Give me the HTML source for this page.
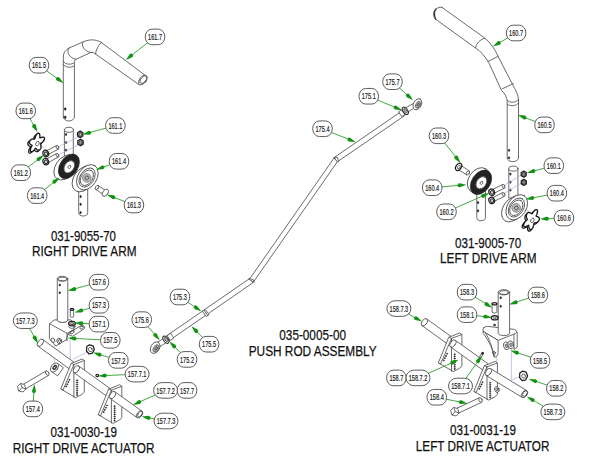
<!DOCTYPE html>
<html><head><meta charset="utf-8"><style>
html,body{margin:0;padding:0;background:#fff;width:600px;height:470px;overflow:hidden}
svg{display:block}
.ld{stroke:#2e9e2e;stroke-width:0.9;fill:none}
.ah{fill:#139313;stroke:none}
.lb{fill:#fff;stroke:#4a4a4a;stroke-width:0.9}
.lt{font-family:"Liberation Sans",sans-serif;font-size:9px;fill:#1a1a1a;stroke:#1a1a1a;stroke-width:0.2;text-anchor:middle}
.ct{font-family:"Liberation Sans",sans-serif;font-size:15.5px;fill:#111;stroke:#111;stroke-width:0.25}
.p{fill:#fff;stroke:#505050;stroke-width:0.85;stroke-linejoin:round;stroke-linecap:round}
.pn{fill:none;stroke:#505050;stroke-width:0.85;stroke-linejoin:round;stroke-linecap:round}
.bk{fill:#222;stroke:#222;stroke-width:0.6}
.bl{fill:none;stroke:#a9aee6;stroke-width:0.7}
.kn{fill:#fff;stroke:#1a1a1a;stroke-width:1.35;stroke-linejoin:round}
.nut{fill:#fff;stroke:#1e1e1e;stroke-width:1.25;stroke-linejoin:round}
.fw{fill:#fff;stroke:none}
.gr2{fill:#a8a8a8;stroke:#444;stroke-width:0.6}
.gr3{fill:#dcdcdc;stroke:#2a2a2a;stroke-width:1.0}
.pn2{fill:none;stroke:#3a3a3a;stroke-width:1.3;stroke-linecap:round}
.gr{fill:#b8b8b8;stroke:#666;stroke-width:0.6}
</style></head><body>
<svg width="600" height="470" viewBox="0 0 600 470">
<path d="M63.3,117 V57 C63.3,52.5 65.5,50 69,48 L83,42 C88,39.5 95,38.8 101,42.2 L144.2,74.6 L140,85 L138.4,84.2 L95.5,54 C94,52.8 92.5,52 90.7,52.5 L76,59.3 C75,59.8 74.4,61 74.4,62.5 V117 A5.55,4 0 0 1 63.3,117 Z" class="p"/>
<path d="M69,48 C66,52 69,58 76,59.3" class="pn"/>
<path d="M83,42 C81,46 84,51 90.7,52.5" class="pn"/>
<path d="M101.5,42.5 C98,45 96,50 95.5,54" class="pn"/>
<path d="M63.3,61.5 C65,64.5 72,65.5 74.4,62.3" class="pn"/>
<path d="M63.3,64.5 C65,67.5 72,68.5 74.4,65.5" class="pn"/>
<ellipse cx="142.9" cy="80" rx="3.3" ry="5.6" class="p" transform="rotate(36.6 142.9 80)" />
<ellipse cx="143.4" cy="79.6" rx="2.5" ry="4.4" class="pn" transform="rotate(36.6 143.4 79.6)" />
<ellipse cx="65.2" cy="109" rx="0.9" ry="1.3" class="bk" />
<ellipse cx="65.2" cy="117.3" rx="0.9" ry="1.3" class="bk" />
<path d="M64.4,129.8 V158 H73.3 V129.8 Z" class="p"/>
<ellipse cx="69" cy="129.8" rx="4.45" ry="2.5" class="p" />
<ellipse cx="66" cy="134.5" rx="0.8" ry="1.1" class="bk" />
<ellipse cx="66" cy="142.6" rx="0.8" ry="1.1" class="bk" />
<ellipse cx="66" cy="150.2" rx="0.8" ry="1.1" class="bk" />
<path d="M78.7,188 V212.5 A4.5,3.5 0 0 0 87.7,212.5 V188 Z" class="p"/>
<ellipse cx="80.6" cy="196.6" rx="0.8" ry="1.1" class="bk" />
<ellipse cx="80.6" cy="204.3" rx="0.8" ry="1.1" class="bk" />
<ellipse cx="80.6" cy="212.6" rx="0.8" ry="1.1" class="bk" />
<line x1="40.8" y1="145" x2="46" y2="151" class="bl"/>
<line x1="57.5" y1="147.3" x2="77.5" y2="137.2" class="bl"/>
<line x1="57.5" y1="155.3" x2="77.8" y2="145.3" class="bl"/>
<path d="M82.88,136.03L80.20,137.66L77.52,136.03L77.52,132.77L80.20,131.15L82.88,132.77Z" class="nut"/>
<ellipse cx="80.4" cy="134.6" rx="1.922" ry="1.922" class="gr3" />
<ellipse cx="80.5" cy="134.70000000000002" rx="0.9920000000000001" ry="0.9920000000000001" class="p" />
<path d="M83.18,144.13L80.50,145.75L77.82,144.13L77.82,140.87L80.50,139.25L83.18,140.87Z" class="nut"/>
<ellipse cx="80.7" cy="142.7" rx="1.922" ry="1.922" class="gr3" />
<ellipse cx="80.8" cy="142.8" rx="0.9920000000000001" ry="0.9920000000000001" class="p" />
<path d="M46.7,155.3L58.4,149.1L56.6,145.5L44.9,151.7Z" class="p"/>
<ellipse cx="57.5" cy="147.3" rx="1.2" ry="2.0" class="p" transform="rotate(-27.91976642810857 57.5 147.3)" />
<ellipse cx="45.8" cy="153.5" rx="2.8" ry="3.3" class="nut" transform="rotate(-20 45.8 153.5)" />
<ellipse cx="46.099999999999994" cy="153.7" rx="1.54" ry="1.815" class="gr3" transform="rotate(-20 46.099999999999994 153.7)" />
<path d="M46.7,163.4L58.4,157.1L56.6,153.5L44.9,159.8Z" class="p"/>
<ellipse cx="57.5" cy="155.3" rx="1.2" ry="2.0" class="p" transform="rotate(-28.300755766006308 57.5 155.3)" />
<ellipse cx="45.8" cy="161.6" rx="2.8" ry="3.3" class="nut" transform="rotate(-20 45.8 161.6)" />
<ellipse cx="46.099999999999994" cy="161.79999999999998" rx="1.54" ry="1.815" class="gr3" transform="rotate(-20 46.099999999999994 161.79999999999998)" />
<path d="M38.26,138.56L38.27,138.97L38.34,139.24L38.60,139.24L38.96,139.13L39.40,138.97L39.88,138.80L40.40,138.65L40.92,138.56L41.42,138.54L41.88,138.60L42.28,138.75L42.60,139.00L42.81,139.34L42.92,139.76L42.91,140.24L42.79,140.77L42.56,141.32L42.24,141.88L41.85,142.42L41.40,142.94L40.92,143.40L40.43,143.82L39.97,144.18L39.55,144.50L39.21,144.78L38.98,145.06L38.97,145.38L39.05,145.75L39.16,146.18L39.28,146.67L39.38,147.21L39.43,147.79L39.43,148.40L39.36,149.01L39.21,149.61L38.99,150.16L38.70,150.66L38.35,151.06L37.95,151.37L37.51,151.57L37.06,151.66L36.61,151.63L36.18,151.50L35.77,151.28L35.41,150.99L35.08,150.67L34.80,150.34L34.55,150.03L34.33,149.79L34.12,149.69L33.85,149.89L33.54,150.23L33.17,150.66L32.76,151.13L32.31,151.61L31.82,152.06L31.32,152.46L30.81,152.78L30.32,152.99L29.87,153.08L29.48,153.05L29.15,152.88L28.91,152.59L28.76,152.19L28.71,151.68L28.76,151.11L28.88,150.49L29.08,149.84L29.34,149.20L29.62,148.58L29.91,148.01L30.17,147.50L30.38,147.07L30.48,146.74L30.32,146.54L30.05,146.38L29.71,146.21L29.34,146.01L28.96,145.77L28.60,145.46L28.29,145.10L28.05,144.69L27.90,144.22L27.84,143.73L27.89,143.21L28.04,142.70L28.29,142.21L28.63,141.76L29.05,141.37L29.53,141.04L30.04,140.79L30.57,140.61L31.09,140.49L31.59,140.44L32.05,140.42L32.46,140.41L32.81,140.38L33.09,140.28L33.26,139.96L33.40,139.52L33.56,138.99L33.74,138.39L33.96,137.76L34.23,137.12L34.54,136.50L34.90,135.92L35.29,135.42L35.70,135.02L36.13,134.74L36.55,134.59L36.94,134.58L37.30,134.71L37.61,134.97L37.86,135.34L38.05,135.80L38.18,136.34L38.25,136.91L38.27,137.50L38.27,138.05Z" class="kn"/>
<path d="M39.86,137.16L39.87,137.57L39.94,137.84L40.20,137.84L40.56,137.73L41.00,137.57L41.48,137.40L42.00,137.25L42.52,137.16L43.02,137.14L43.48,137.20L43.88,137.35L44.20,137.60L44.41,137.94L44.52,138.36L44.51,138.84L44.39,139.37L44.16,139.92L43.84,140.48L43.45,141.02L43.00,141.54L42.52,142.00L42.03,142.42L41.57,142.78L41.15,143.10L40.81,143.38L40.58,143.66L40.57,143.98L40.65,144.35L40.76,144.78L40.88,145.27L40.98,145.81L41.03,146.39L41.03,147.00L40.96,147.61L40.81,148.21L40.59,148.76L40.30,149.26L39.95,149.66L39.55,149.97L39.11,150.17L38.66,150.26L38.21,150.23L37.78,150.10L37.37,149.88L37.01,149.59L36.68,149.27L36.40,148.94L36.15,148.63L35.93,148.39L35.72,148.29L35.45,148.49L35.14,148.83L34.77,149.26L34.36,149.73L33.91,150.21L33.42,150.66L32.92,151.06L32.41,151.38L31.92,151.59L31.47,151.68L31.08,151.65L30.75,151.48L30.51,151.19L30.36,150.79L30.31,150.28L30.36,149.71L30.48,149.09L30.68,148.44L30.94,147.80L31.22,147.18L31.51,146.61L31.77,146.10L31.98,145.67L32.08,145.34L31.92,145.14L31.65,144.98L31.31,144.81L30.94,144.61L30.56,144.37L30.20,144.06L29.89,143.70L29.65,143.29L29.50,142.82L29.44,142.33L29.49,141.81L29.64,141.30L29.89,140.81L30.23,140.36L30.65,139.97L31.13,139.64L31.64,139.39L32.17,139.21L32.69,139.09L33.19,139.04L33.65,139.02L34.06,139.01L34.41,138.98L34.69,138.88L34.86,138.56L35.00,138.12L35.16,137.59L35.34,136.99L35.56,136.36L35.83,135.72L36.14,135.10L36.50,134.52L36.89,134.02L37.30,133.62L37.73,133.34L38.15,133.19L38.54,133.18L38.90,133.31L39.21,133.57L39.46,133.94L39.65,134.40L39.78,134.94L39.85,135.51L39.87,136.10L39.87,136.65Z" class="kn"/>
<ellipse cx="37.4" cy="143.60000000000002" rx="2.4" ry="1.6" class="pn" transform="rotate(-60 37.4 143.60000000000002)" />
<ellipse cx="64.4" cy="167.6" rx="13.5" ry="9.0" class="p" transform="rotate(-57 64.4 167.6)" />
<path d="M67.47,178.42L62.97,179.62L65.83,155.58L70.33,154.38Z" class="fw"/>
<line x1="67.47" y1="178.42" x2="62.97" y2="179.62" class="pn"/>
<line x1="70.33" y1="154.38" x2="65.83" y2="155.58" class="pn"/>
<ellipse cx="68.9" cy="166.4" rx="13.5" ry="9.0" class="bk" transform="rotate(-57 68.9 166.4)" />
<ellipse cx="69.30000000000001" cy="166.8" rx="6.75" ry="4.68" class="p" transform="rotate(-57 69.30000000000001 166.8)" />
<ellipse cx="69.4" cy="166.9" rx="1.6" ry="1.3" class="pn" transform="rotate(-57 69.4 166.9)" />
<ellipse cx="83.0" cy="179.2" rx="13.8" ry="9.4" class="p" transform="rotate(-57 83.0 179.2)" />
<path d="M88.01,188.85L83.61,190.85L82.39,167.55L86.79,165.55Z" class="fw"/>
<line x1="88.01" y1="188.85" x2="83.61" y2="190.85" class="pn"/>
<line x1="86.79" y1="165.55" x2="82.39" y2="167.55" class="pn"/>
<ellipse cx="87.4" cy="177.2" rx="13.8" ry="9.4" class="p" transform="rotate(-57 87.4 177.2)" />
<ellipse cx="87.10000000000001" cy="177.5" rx="10.488000000000001" ry="6.956" class="pn" transform="rotate(-57 87.10000000000001 177.5)" />
<ellipse cx="86.9" cy="177.7" rx="8.556000000000001" ry="5.64" class="pn" transform="rotate(-57 86.9 177.7)" />
<ellipse cx="86.80000000000001" cy="177.89999999999998" rx="4.416" ry="4.324000000000001" class="gr" transform="rotate(-57 86.80000000000001 177.89999999999998)" />
<ellipse cx="86.9" cy="177.89999999999998" rx="1.9320000000000004" ry="1.8800000000000001" class="pn" transform="rotate(-57 86.9 177.89999999999998)" />
<path d="M95.7,189.4L103.7,194.7L106.3,190.9L98.3,185.6Z" class="p"/>
<ellipse cx="97" cy="187.5" rx="1.4" ry="2.3" class="p" transform="rotate(33.5 97 187.5)" />
<ellipse cx="105.3" cy="192.8" rx="2.6" ry="4.0" class="p" transform="rotate(33.5 105.3 192.8)" />
<line x1="54.3" y1="345" x2="54.3" y2="368" class="bl"/>
<line x1="70.2" y1="340" x2="70.2" y2="360" class="bl"/>
<line x1="73" y1="359.2" x2="87" y2="352.2" class="bl"/>
<path d="M37.9,346.1L71.6,370.5L76.4,363.9L42.7,339.5Z" class="p"/>
<ellipse cx="40.3" cy="342.8" rx="2.4599999999999995" ry="4.1" class="p" transform="rotate(35.7 40.3 342.8)" />
<path d="M71.5,363.3 L82.1,359.0 L84.3,360.6 L84.3,391.9 L82.1,394.3 L75.7,397.7 L61.1,389.1 Z" class="p"/>
<path d="M71.5,363.3 L73.9,364.5 L84.3,360.6" class="pn"/>
<path d="M73.9,364.5 L73.9,397.3" class="pn"/>
<path d="M73.9,364.5 L62.9,390.3 L61.1,389.1" class="pn"/>
<ellipse cx="77.1" cy="380.3" rx="0.75" ry="0.55" class="bk" />
<ellipse cx="77.1" cy="382.40000000000003" rx="0.75" ry="0.55" class="bk" />
<ellipse cx="77.1" cy="384.5" rx="0.75" ry="0.55" class="bk" />
<ellipse cx="77.1" cy="386.6" rx="0.75" ry="0.55" class="bk" />
<ellipse cx="77.1" cy="388.7" rx="0.75" ry="0.55" class="bk" />
<ellipse cx="77.1" cy="390.8" rx="0.75" ry="0.55" class="bk" />
<ellipse cx="77.1" cy="392.90000000000003" rx="0.75" ry="0.55" class="bk" />
<ellipse cx="77.1" cy="395.0" rx="0.75" ry="0.55" class="bk" />
<ellipse cx="69.5" cy="379.8" rx="0.65" ry="0.55" class="bk" />
<ellipse cx="68.4" cy="382.0" rx="0.65" ry="0.55" class="bk" />
<ellipse cx="67.3" cy="384.2" rx="0.65" ry="0.55" class="bk" />
<ellipse cx="66.2" cy="386.40000000000003" rx="0.65" ry="0.55" class="bk" />
<path d="M73.9,372.6L108.6,397.5L113.4,390.9L78.7,366.0Z" class="p"/>
<ellipse cx="76.3" cy="369.3" rx="2.4599999999999995" ry="4.1" class="p" transform="rotate(35.7 76.3 369.3)" />
<path d="M109.0,389.0 L119.6,384.7 L121.8,386.3 L121.8,417.6 L119.6,420.0 L113.2,423.4 L98.6,414.8 Z" class="p"/>
<path d="M109.0,389.0 L111.4,390.2 L121.8,386.3" class="pn"/>
<path d="M111.4,390.2 L111.4,423.0" class="pn"/>
<path d="M111.4,390.2 L100.4,416.0 L98.6,414.8" class="pn"/>
<ellipse cx="114.6" cy="406.0" rx="0.75" ry="0.55" class="bk" />
<ellipse cx="114.6" cy="408.1" rx="0.75" ry="0.55" class="bk" />
<ellipse cx="114.6" cy="410.2" rx="0.75" ry="0.55" class="bk" />
<ellipse cx="114.6" cy="412.3" rx="0.75" ry="0.55" class="bk" />
<ellipse cx="114.6" cy="414.4" rx="0.75" ry="0.55" class="bk" />
<ellipse cx="114.6" cy="416.5" rx="0.75" ry="0.55" class="bk" />
<ellipse cx="114.6" cy="418.6" rx="0.75" ry="0.55" class="bk" />
<ellipse cx="114.6" cy="420.7" rx="0.75" ry="0.55" class="bk" />
<ellipse cx="107.0" cy="405.5" rx="0.65" ry="0.55" class="bk" />
<ellipse cx="105.9" cy="407.7" rx="0.65" ry="0.55" class="bk" />
<ellipse cx="104.8" cy="409.9" rx="0.65" ry="0.55" class="bk" />
<ellipse cx="103.7" cy="412.1" rx="0.65" ry="0.55" class="bk" />
<path d="M110.1,398.4L137.1,417.7L141.9,411.1L114.9,391.8Z" class="p"/>
<ellipse cx="112.5" cy="395.1" rx="2.4599999999999995" ry="4.1" class="p" transform="rotate(35.7 112.5 395.1)" />
<ellipse cx="139.5" cy="414.4" rx="2.4599999999999995" ry="4.1" class="p" transform="rotate(35.7 139.5 414.4)" />
<ellipse cx="140.0" cy="414.0" rx="1.845" ry="3.1159999999999997" class="pn" transform="rotate(35.7 140.0 414.0)" />
<path d="M51.6,371.6L57.6,375.9L63.4,367.7L57.4,363.4Z" class="p"/>
<ellipse cx="54.5" cy="367.5" rx="3.3" ry="5.1" class="p" transform="rotate(35.7 54.5 367.5)" />
<ellipse cx="54.7" cy="367.4" rx="1.7" ry="2.6" class="bk" transform="rotate(35.7 54.7 367.4)" />
<ellipse cx="54.8" cy="367.4" rx="0.9" ry="1.5" class="p" transform="rotate(35.7 54.8 367.4)" />
<path d="M23.8,390.0L48.6,375.4L46.0,371.0L21.2,385.6Z" class="p"/>
<ellipse cx="47.3" cy="373.2" rx="1.5" ry="2.5" class="p" transform="rotate(-30.5 47.3 373.2)" />
<path d="M17.8,386 L20.5,383.5 L24.5,384.5 L25.8,389 L23,392 L19,391 Z" class="p"/>
<path d="M20.5,383.5 L22,387.5 L25.8,389 M22,387.5 L19,391" class="pn"/>
<path d="M86.8,346.5 L89.5,344.8 L93,345.8 L94.3,349.5 L92.5,353.2 L89,354 L86.5,351 Z" class="nut"/>
<ellipse cx="90.4" cy="349.6" rx="1.8" ry="2.2" class="p" transform="rotate(-20 90.4 349.6)" />
<ellipse cx="97.3" cy="375.5" rx="1.4" ry="1.2" class="nut" />
<path d="M57.3,278.8 V320 A5.25,2.5 0 0 0 67.8,320 V278.8 Z" class="p"/>
<ellipse cx="62.55" cy="278.8" rx="5.25" ry="2.5" class="p" />
<ellipse cx="62.55" cy="279.0" rx="4.2" ry="1.8" class="pn" />
<ellipse cx="59.8" cy="285" rx="0.8" ry="1.0" class="bk" />
<ellipse cx="59.8" cy="292.7" rx="0.8" ry="1.0" class="bk" />
<path d="M49.7,323.7 L54.2,319.9 L57.3,319.9 A5.25,2.5 0 0 0 67.8,319.9 L71,319.9 L74,323 L74,332 L68,334.5 L66,340 L56,346 L49.7,339 Z" class="p"/>
<path d="M49.7,323.7 L67,333.3 L67,341 M67,333.3 L74,330" class="pn"/>
<ellipse cx="52.9" cy="340.3" rx="1.8" ry="2.4" class="pn" transform="rotate(-20 52.9 340.3)" />
<ellipse cx="59.3" cy="341" rx="2.4" ry="2.8" class="p" transform="rotate(-20 59.3 341)" />
<ellipse cx="59.5" cy="341" rx="1.2" ry="1.5" class="pn" transform="rotate(-20 59.5 341)" />
<path d="M68,334 L80,326 C83,324.5 86,326 84,329 L73,336 Z" class="p"/>
<ellipse cx="72" cy="332" rx="2.2" ry="1.6" class="pn" transform="rotate(-30 72 332)" />
<ellipse cx="81.5" cy="327.6" rx="1.8" ry="1.3" class="pn" transform="rotate(-30 81.5 327.6)" />
<path d="M70.3,309.5 V316.5 A1.7,0.8 0 0 0 73.7,316.5 V309.5 Z" class="p"/>
<ellipse cx="72" cy="309.3" rx="1.7" ry="1.0" class="nut" />
<ellipse cx="72" cy="323.6" rx="3.4" ry="2.3" class="nut" />
<ellipse cx="72" cy="323.6" rx="1.4" ry="0.9" class="p" />
<ellipse cx="72" cy="326.4" rx="3.2" ry="2.0" class="pn" />
<path d="M167.5,341.7L253.0,282.7L250.0,278.3L164.5,337.3Z" class="p"/>
<path d="M253.5,281.9L338.0,160.9L334.0,158.1L249.5,279.1Z" class="p"/>
<path d="M337.5,161.7L404.5,115.7L401.5,111.3L334.5,157.3Z" class="p"/>
<path d="M248.8,278.6 L253.2,279.5 L254.2,282.4" class="pn"/>
<path d="M333.6,157.8 L337.4,157.2 L338.6,161.3" class="pn"/>
<path d="M206.5,316.4L209.1,314.6L205.3,309.4L202.7,311.2Z" class="p"/>
<line x1="205.9" y1="312.9" x2="205.9" y2="312.9" class="pn"/>
<line x1="207.758249458275" y1="315.5051696587402" x2="204.041750541725" y2="310.29483034125974" class="pn"/>
<path d="M158.9,347.4L167.4,341.7L164.6,337.5L156.1,343.2Z" class="p"/>
<ellipse cx="155.2" cy="347.6" rx="6.2" ry="4.3" class="p" transform="rotate(-60 155.2 347.6)" />
<ellipse cx="156.0" cy="348.4" rx="4.0" ry="2.5" class="gr2" transform="rotate(-60 156.0 348.4)" />
<ellipse cx="156.3" cy="348.5" rx="1.5" ry="1.0" class="pn" transform="rotate(-60 156.3 348.5)" />
<path d="M170.6,340.2L173.8,338.0L170.6,333.2L167.4,335.4Z" class="p"/>
<ellipse cx="165.9" cy="339.7" rx="2.3" ry="4.2" class="gr3" transform="rotate(-35 165.9 339.7)" />
<ellipse cx="166.2" cy="339.5" rx="1.2" ry="2.4" class="gr2" transform="rotate(-35 166.2 339.5)" />
<path d="M407.1,112.3L416.1,107.2L413.9,103.2L404.9,108.3Z" class="p"/>
<ellipse cx="417.4" cy="104.2" rx="5.9" ry="3.9" class="p" transform="rotate(-62 417.4 104.2)" />
<ellipse cx="418.0" cy="104.8" rx="3.7" ry="2.2" class="gr2" transform="rotate(-62 418.0 104.8)" />
<ellipse cx="418.2" cy="104.8" rx="1.4" ry="0.9" class="pn" transform="rotate(-62 418.2 104.8)" />
<path d="M402.1,116.4L404.8,114.6L401.6,109.8L398.9,111.6Z" class="p"/>
<ellipse cx="405.3" cy="110.8" rx="2.3" ry="4.2" class="gr3" transform="rotate(-35 405.3 110.8)" />
<ellipse cx="405.5" cy="110.6" rx="1.2" ry="2.4" class="gr2" transform="rotate(-35 405.5 110.6)" />
<path d="M442,7.4 L484.2,37.7 C490,42 495,49 498.1,56.4 L512.6,84.5 C515.5,90 518.5,95 518.5,100 V158 A5.65,3.6 0 0 1 507.2,158 V101.6 C507,98 505,93 501.5,90.5 L488.7,62.4 C485,57 481,51 475.3,47.9 L435.7,19.2 C432.5,16.5 433,11 436,9 C438,7.5 440,7 442,7.4 Z" class="p"/>
<path d="M484.8,38.3 C480,39.5 476.5,43 475.6,47.6" class="pn"/>
<path d="M487.9,61.5 L498.1,56.4" class="pn"/>
<path d="M502.2,88.8 L513.4,83.7" class="pn"/>
<path d="M507.2,100.5 C509,103 516.5,103 518.5,99.5" class="pn"/>
<path d="M507.2,104 C509,106.5 516.5,106.5 518.5,103" class="pn"/>
<path d="M436,9 C434.2,11 434,15 435.7,19.2" class="pn2"/>
<ellipse cx="509" cy="150.3" rx="0.8" ry="1.1" class="bk" />
<ellipse cx="509" cy="157.8" rx="0.8" ry="1.1" class="bk" />
<path d="M508.8,168.6 V198 H517.9 V168.6 Z" class="p"/>
<ellipse cx="513.35" cy="168.6" rx="4.55" ry="2.5" class="p" />
<ellipse cx="510.4" cy="174.1" rx="0.8" ry="1.1" class="bk" />
<ellipse cx="510.4" cy="182.1" rx="0.8" ry="1.1" class="bk" />
<ellipse cx="510.4" cy="190.1" rx="0.8" ry="1.1" class="bk" />
<path d="M476.8,190 V217.5 A4.3,3.2 0 0 0 485.4,217.5 V190 Z" class="p"/>
<ellipse cx="478" cy="202.6" rx="0.8" ry="1.1" class="bk" />
<ellipse cx="478" cy="210.8" rx="0.8" ry="1.1" class="bk" />
<line x1="503" y1="186" x2="523" y2="174" class="bl"/>
<line x1="503" y1="194" x2="523" y2="182" class="bl"/>
<line x1="518" y1="196" x2="531" y2="216" class="bl"/>
<path d="M526.21,175.62L523.70,177.14L521.19,175.62L521.19,172.58L523.70,171.06L526.21,172.58Z" class="nut"/>
<ellipse cx="523.9000000000001" cy="174.29999999999998" rx="1.798" ry="1.798" class="gr3" />
<ellipse cx="524.0" cy="174.4" rx="0.9279999999999999" ry="0.9279999999999999" class="p" />
<path d="M526.31,183.92L523.80,185.44L521.29,183.92L521.29,180.88L523.80,179.36L526.31,180.88Z" class="nut"/>
<ellipse cx="524.0" cy="182.6" rx="1.798" ry="1.798" class="gr3" />
<ellipse cx="524.0999999999999" cy="182.70000000000002" rx="0.9279999999999999" ry="0.9279999999999999" class="p" />
<path d="M492.6,194.0L504.5,188.1L502.7,184.5L490.8,190.4Z" class="p"/>
<ellipse cx="503.6" cy="186.3" rx="1.2" ry="2.0" class="p" transform="rotate(-26.372136823544803 503.6 186.3)" />
<ellipse cx="491.7" cy="192.2" rx="2.8" ry="3.3" class="nut" transform="rotate(-20 491.7 192.2)" />
<ellipse cx="492.0" cy="192.39999999999998" rx="1.54" ry="1.815" class="gr3" transform="rotate(-20 492.0 192.39999999999998)" />
<path d="M492.6,202.2L504.5,196.2L502.7,192.6L490.8,198.6Z" class="p"/>
<ellipse cx="503.6" cy="194.4" rx="1.2" ry="2.0" class="p" transform="rotate(-26.7573181718765 503.6 194.4)" />
<ellipse cx="491.7" cy="200.4" rx="2.8" ry="3.3" class="nut" transform="rotate(-20 491.7 200.4)" />
<ellipse cx="492.0" cy="200.6" rx="1.54" ry="1.815" class="gr3" transform="rotate(-20 492.0 200.6)" />
<path d="M457.7,169.0L466.6,174.9L469.2,170.9L460.3,165.0Z" class="p"/>
<ellipse cx="467.9" cy="172.9" rx="1.4" ry="2.4" class="p" transform="rotate(33.5 467.9 172.9)" />
<ellipse cx="458.6" cy="166.9" rx="2.6" ry="4.0" class="nut" transform="rotate(33.5 458.6 166.9)" />
<ellipse cx="458.9" cy="167.1" rx="1.2" ry="2.0" class="p" transform="rotate(33.5 458.9 167.1)" />
<ellipse cx="478.0" cy="179.8" rx="13.4" ry="9.2" class="p" transform="rotate(-56 478.0 179.8)" />
<path d="M472.99,193.02L469.99,190.52L486.01,169.08L489.01,171.58Z" class="fw"/>
<line x1="472.99" y1="193.02" x2="469.99" y2="190.52" class="pn"/>
<line x1="489.01" y1="171.58" x2="486.01" y2="169.08" class="pn"/>
<ellipse cx="481.0" cy="182.3" rx="13.4" ry="9.2" class="bk" transform="rotate(-56 481.0 182.3)" />
<ellipse cx="481.4" cy="182.70000000000002" rx="6.7" ry="4.784" class="p" transform="rotate(-56 481.4 182.70000000000002)" />
<ellipse cx="481.5" cy="182.8" rx="1.6" ry="1.3" class="pn" transform="rotate(-56 481.5 182.8)" />
<ellipse cx="512.4" cy="209.2" rx="13.8" ry="9.4" class="p" transform="rotate(-57 512.4 209.2)" />
<path d="M517.41,218.85L513.01,220.85L511.79,197.55L516.19,195.55Z" class="fw"/>
<line x1="517.41" y1="218.85" x2="513.01" y2="220.85" class="pn"/>
<line x1="516.19" y1="195.55" x2="511.79" y2="197.55" class="pn"/>
<ellipse cx="516.8" cy="207.2" rx="13.8" ry="9.4" class="p" transform="rotate(-57 516.8 207.2)" />
<ellipse cx="516.5" cy="207.5" rx="10.488000000000001" ry="6.956" class="pn" transform="rotate(-57 516.5 207.5)" />
<ellipse cx="516.3" cy="207.7" rx="8.556000000000001" ry="5.64" class="pn" transform="rotate(-57 516.3 207.7)" />
<ellipse cx="516.1999999999999" cy="207.89999999999998" rx="4.416" ry="4.324000000000001" class="gr" transform="rotate(-57 516.1999999999999 207.89999999999998)" />
<ellipse cx="516.3" cy="207.89999999999998" rx="1.9320000000000004" ry="1.8800000000000001" class="pn" transform="rotate(-57 516.3 207.89999999999998)" />
<path d="M535.46,211.21L535.75,211.46L535.95,211.84L536.07,212.33L536.09,212.92L536.03,213.57L535.89,214.26L535.69,214.96L535.46,215.64L535.22,216.27L534.99,216.83L534.82,217.30L534.76,217.66L534.94,217.83L535.25,217.94L535.64,218.04L536.06,218.17L536.50,218.34L536.91,218.57L537.29,218.88L537.60,219.25L537.82,219.68L537.94,220.17L537.95,220.70L537.84,221.24L537.63,221.79L537.32,222.31L536.91,222.79L536.44,223.21L535.92,223.57L535.37,223.85L534.83,224.07L534.29,224.22L533.80,224.33L533.36,224.42L532.99,224.52L532.71,224.68L532.57,225.03L532.46,225.50L532.36,226.07L532.23,226.70L532.07,227.38L531.86,228.08L531.60,228.77L531.28,229.41L530.92,229.99L530.52,230.48L530.10,230.85L529.67,231.08L529.24,231.17L528.84,231.11L528.48,230.91L528.17,230.59L527.91,230.15L527.71,229.64L527.57,229.07L527.47,228.49L527.41,227.93L527.36,227.42L527.31,227.01L527.20,226.75L526.92,226.80L526.54,226.99L526.10,227.23L525.60,227.50L525.06,227.74L524.51,227.94L523.98,228.06L523.47,228.09L523.03,228.01L522.66,227.82L522.39,227.52L522.23,227.12L522.18,226.63L522.25,226.08L522.42,225.48L522.70,224.85L523.06,224.23L523.49,223.63L523.95,223.06L524.42,222.55L524.87,222.09L525.28,221.69L525.62,221.34L525.83,221.02L525.81,220.69L525.68,220.33L525.51,219.92L525.32,219.45L525.15,218.92L525.03,218.35L524.96,217.74L524.96,217.11L525.05,216.48L525.22,215.88L525.48,215.32L525.81,214.84L526.20,214.45L526.64,214.17L527.11,213.99L527.60,213.93L528.08,213.98L528.54,214.12L528.97,214.34L529.36,214.60L529.70,214.88L530.00,215.14L530.26,215.34L530.51,215.40L530.77,215.15L531.06,214.74L531.40,214.24L531.79,213.68L532.22,213.11L532.69,212.56L533.18,212.06L533.69,211.64L534.19,211.33L534.66,211.15L535.09,211.11Z" class="kn"/>
<path d="M536.86,209.71L537.15,209.96L537.35,210.34L537.47,210.83L537.49,211.42L537.43,212.07L537.29,212.76L537.09,213.46L536.86,214.14L536.62,214.77L536.39,215.33L536.22,215.80L536.16,216.16L536.34,216.33L536.65,216.44L537.04,216.54L537.46,216.67L537.90,216.84L538.31,217.07L538.69,217.38L539.00,217.75L539.22,218.18L539.34,218.67L539.35,219.20L539.24,219.74L539.03,220.29L538.72,220.81L538.31,221.29L537.84,221.71L537.32,222.07L536.77,222.35L536.23,222.57L535.69,222.72L535.20,222.83L534.76,222.92L534.39,223.02L534.11,223.18L533.97,223.53L533.86,224.00L533.76,224.57L533.63,225.20L533.47,225.88L533.26,226.58L533.00,227.27L532.68,227.91L532.32,228.49L531.92,228.98L531.50,229.35L531.07,229.58L530.64,229.67L530.24,229.61L529.88,229.41L529.57,229.09L529.31,228.65L529.11,228.14L528.97,227.57L528.87,226.99L528.81,226.43L528.76,225.92L528.71,225.51L528.60,225.25L528.32,225.30L527.94,225.49L527.50,225.73L527.00,226.00L526.46,226.24L525.91,226.44L525.38,226.56L524.87,226.59L524.43,226.51L524.06,226.32L523.79,226.02L523.63,225.62L523.58,225.13L523.65,224.58L523.82,223.98L524.10,223.35L524.46,222.73L524.89,222.13L525.35,221.56L525.82,221.05L526.27,220.59L526.68,220.19L527.02,219.84L527.23,219.52L527.21,219.19L527.08,218.83L526.91,218.42L526.72,217.95L526.55,217.42L526.43,216.85L526.36,216.24L526.36,215.61L526.45,214.98L526.62,214.38L526.88,213.82L527.21,213.34L527.60,212.95L528.04,212.67L528.51,212.49L529.00,212.43L529.48,212.48L529.94,212.62L530.37,212.84L530.76,213.10L531.10,213.38L531.40,213.64L531.66,213.84L531.91,213.90L532.17,213.65L532.46,213.24L532.80,212.74L533.19,212.18L533.62,211.61L534.09,211.06L534.58,210.56L535.09,210.14L535.59,209.83L536.06,209.65L536.49,209.61Z" class="kn"/>
<ellipse cx="532.4" cy="220.4" rx="2.4" ry="1.6" class="pn" transform="rotate(-62 532.4 220.4)" />
<path d="M514.3,330.5 L517.2,332.2 L517.2,347.2 L514.3,349.2 Z" class="p"/>
<path d="M483.6,327.7 Q482.6,329.2 483.3,331.5 L498.1,340.4 L515.3,333.6 Q517.6,332.3 516.2,330.6 L514.3,329.4 L487.8,326.4 Q485,326.3 483.6,327.7 Z" class="p"/>
<path d="M483.3,331.5 L498.1,340.4 L498.1,352.5 C498,355.5 496.6,357.2 494.6,357.2 C493,350 489,340.5 483.3,333.6 Z" class="p"/>
<path d="M485.6,333.2 C489.6,339.6 492.3,347 493.9,356.6" class="pn"/>
<path d="M498.2,292.3 V333.2 A5.7,2.4 0 0 0 509.6,333.2 V292.3 Z" class="p"/>
<ellipse cx="503.9" cy="292.3" rx="5.7" ry="2.6" class="p" />
<ellipse cx="503.9" cy="292.5" rx="4.5" ry="1.9" class="pn" />
<ellipse cx="500.7" cy="297.8" rx="0.8" ry="1.0" class="bk" />
<ellipse cx="500.7" cy="306.3" rx="0.8" ry="1.0" class="bk" />
<ellipse cx="494.0" cy="353.0" rx="1.3" ry="1.8" class="pn" transform="rotate(-20 494.0 353.0)" />
<ellipse cx="506.4" cy="345.8" rx="2.8" ry="4.0" class="p" transform="rotate(-15 506.4 345.8)" />
<ellipse cx="506.6" cy="345.8" rx="1.3" ry="1.9" class="gr2" transform="rotate(-15 506.6 345.8)" />
<ellipse cx="510.8" cy="344.8" rx="2.8" ry="4.0" class="p" transform="rotate(-15 510.8 344.8)" />
<ellipse cx="511.0" cy="344.8" rx="1.3" ry="1.9" class="gr2" transform="rotate(-15 511.0 344.8)" />
<path d="M492.1,303.7 V312 A2.4,1 0 0 0 496.9,312 V303.7 Z" class="p"/>
<ellipse cx="494.5" cy="303.7" rx="2.4" ry="1.2" class="nut" />
<ellipse cx="494.7" cy="317.7" rx="3.5" ry="2.2" class="nut" />
<ellipse cx="494.7" cy="317.7" rx="1.4" ry="0.9" class="p" />
<ellipse cx="494.6" cy="325" rx="1.2" ry="0.8" class="bk" />
<line x1="496.4" y1="357.5" x2="496.4" y2="395" class="bl"/>
<line x1="511.4" y1="349" x2="511.4" y2="380" class="bl"/>
<line x1="511.4" y1="380" x2="521" y2="376" class="bl"/>
<path d="M422.0,325.6L448.6,344.8L453.4,338.2L426.8,319.0Z" class="p"/>
<ellipse cx="424.4" cy="322.3" rx="2.4599999999999995" ry="4.1" class="p" transform="rotate(35.6 424.4 322.3)" />
<path d="M449.1,337.2 L459.7,332.9 L461.9,334.5 L461.9,365.8 L459.7,368.2 L453.3,371.6 L438.7,363.0 Z" class="p"/>
<path d="M449.1,337.2 L451.5,338.4 L461.9,334.5" class="pn"/>
<path d="M451.5,338.4 L451.5,371.2" class="pn"/>
<path d="M451.5,338.4 L440.5,364.2 L438.7,363.0" class="pn"/>
<ellipse cx="454.70000000000005" cy="354.2" rx="0.75" ry="0.55" class="bk" />
<ellipse cx="454.70000000000005" cy="356.3" rx="0.75" ry="0.55" class="bk" />
<ellipse cx="454.70000000000005" cy="358.4" rx="0.75" ry="0.55" class="bk" />
<ellipse cx="454.70000000000005" cy="360.5" rx="0.75" ry="0.55" class="bk" />
<ellipse cx="454.70000000000005" cy="362.59999999999997" rx="0.75" ry="0.55" class="bk" />
<ellipse cx="454.70000000000005" cy="364.7" rx="0.75" ry="0.55" class="bk" />
<ellipse cx="454.70000000000005" cy="366.8" rx="0.75" ry="0.55" class="bk" />
<ellipse cx="454.70000000000005" cy="368.9" rx="0.75" ry="0.55" class="bk" />
<ellipse cx="447.1" cy="353.7" rx="0.65" ry="0.55" class="bk" />
<ellipse cx="446.0" cy="355.9" rx="0.65" ry="0.55" class="bk" />
<ellipse cx="444.90000000000003" cy="358.09999999999997" rx="0.65" ry="0.55" class="bk" />
<ellipse cx="443.8" cy="360.3" rx="0.65" ry="0.55" class="bk" />
<path d="M450.5,346.9L483.6,370.6L488.4,364.0L455.3,340.3Z" class="p"/>
<ellipse cx="452.9" cy="343.6" rx="2.4599999999999995" ry="4.1" class="p" transform="rotate(35.6 452.9 343.6)" />
<path d="M484.6,365.7 L495.2,361.4 L497.4,363.0 L497.4,394.3 L495.2,396.7 L488.8,400.1 L474.2,391.5 Z" class="p"/>
<path d="M484.6,365.7 L487.0,366.9 L497.4,363.0" class="pn"/>
<path d="M487.0,366.9 L487.0,399.7" class="pn"/>
<path d="M487.0,366.9 L476.0,392.7 L474.2,391.5" class="pn"/>
<ellipse cx="490.20000000000005" cy="382.7" rx="0.75" ry="0.55" class="bk" />
<ellipse cx="490.20000000000005" cy="384.8" rx="0.75" ry="0.55" class="bk" />
<ellipse cx="490.20000000000005" cy="386.9" rx="0.75" ry="0.55" class="bk" />
<ellipse cx="490.20000000000005" cy="389.0" rx="0.75" ry="0.55" class="bk" />
<ellipse cx="490.20000000000005" cy="391.09999999999997" rx="0.75" ry="0.55" class="bk" />
<ellipse cx="490.20000000000005" cy="393.2" rx="0.75" ry="0.55" class="bk" />
<ellipse cx="490.20000000000005" cy="395.3" rx="0.75" ry="0.55" class="bk" />
<ellipse cx="490.20000000000005" cy="397.4" rx="0.75" ry="0.55" class="bk" />
<ellipse cx="482.6" cy="382.2" rx="0.65" ry="0.55" class="bk" />
<ellipse cx="481.5" cy="384.4" rx="0.65" ry="0.55" class="bk" />
<ellipse cx="480.40000000000003" cy="386.59999999999997" rx="0.65" ry="0.55" class="bk" />
<ellipse cx="479.3" cy="388.8" rx="0.65" ry="0.55" class="bk" />
<path d="M486.3,375.6L522.4,397.5L526.6,390.5L490.5,368.6Z" class="p"/>
<ellipse cx="488.4" cy="372.1" rx="2.4599999999999995" ry="4.1" class="p" transform="rotate(35.6 488.4 372.1)" />
<ellipse cx="524.5" cy="394" rx="2.4599999999999995" ry="4.1" class="p" transform="rotate(35.6 524.5 394)" />
<ellipse cx="525.0" cy="393.6" rx="1.845" ry="3.1159999999999997" class="pn" transform="rotate(35.6 525.0 393.6)" />
<path d="M480.4,359.0L483.4,353.6L481.8,352.8L478.8,358.2Z" class="p"/>
<ellipse cx="482.6" cy="353.2" rx="0.9" ry="0.6" class="nut" transform="rotate(-60 482.6 353.2)" />
<path d="M519.8,373 L522.5,371.2 L526.2,372.2 L527.6,376 L525.8,379.8 L522.2,380.6 L519.6,377.5 Z" class="nut"/>
<ellipse cx="523.7" cy="376" rx="1.8" ry="2.2" class="p" transform="rotate(-20 523.7 376)" />
<path d="M457.1,413.8L481.6,402.3L479.4,397.7L454.9,409.2Z" class="p"/>
<ellipse cx="480.5" cy="400" rx="1.5" ry="2.5" class="p" transform="rotate(-25 480.5 400)" />
<path d="M451,410 L453.7,407.5 L457.7,408.5 L459,413 L456.2,416 L452.2,415 Z" class="p"/>
<path d="M453.7,407.5 L455.2,411.5 L459,413 M455.2,411.5 L452.2,415" class="pn"/>
<ellipse cx="496.9" cy="389.5" rx="2.2" ry="3.0" class="p" transform="rotate(-20 496.9 389.5)" />
<ellipse cx="497" cy="389.5" rx="1.0" ry="1.5" class="pn" transform="rotate(-20 497 389.5)" />
<line x1="148.1" y1="42.4" x2="131.0" y2="55.8" class="ld"/>
<path d="M125.80,59.90L129.78,54.29Q131.39,52.77 132.72,54.46Q134.04,56.15 132.19,57.35Z" class="ah"/>
<rect x="145.25" y="29.10" width="19.60" height="15.60" rx="6.66" ry="7.80" class="lb"/>
<text x="155.05" y="40.0" textLength="14.0" lengthAdjust="spacingAndGlyphs" class="lt">161.7</text>
<line x1="46.2" y1="70.5" x2="58.2" y2="79.1" class="ld"/>
<path d="M63.50,83.00L57.01,80.70Q55.12,79.56 56.38,77.83Q57.64,76.09 59.31,77.54Z" class="ah"/>
<rect x="29.20" y="57.40" width="19.60" height="15.60" rx="6.66" ry="7.80" class="lb"/>
<text x="39" y="68.3" textLength="14.0" lengthAdjust="spacingAndGlyphs" class="lt">161.5</text>
<line x1="29.7" y1="118.0" x2="34.3" y2="126.2" class="ld"/>
<path d="M37.50,132.00L32.59,127.18Q31.34,125.36 33.22,124.31Q35.09,123.27 35.99,125.29Z" class="ah"/>
<rect x="15.95" y="103.10" width="19.60" height="15.60" rx="6.66" ry="7.80" class="lb"/>
<text x="25.75" y="114.0" textLength="14.0" lengthAdjust="spacingAndGlyphs" class="lt">161.6</text>
<line x1="106.1" y1="128.1" x2="88.9" y2="132.8" class="ld"/>
<path d="M82.50,134.60L88.34,130.96Q90.41,130.19 90.98,132.25Q91.55,134.32 89.38,134.72Z" class="ah"/>
<rect x="105.60" y="117.70" width="19.60" height="15.60" rx="6.66" ry="7.80" class="lb"/>
<text x="115.4" y="128.6" textLength="14.0" lengthAdjust="spacingAndGlyphs" class="lt">161.1</text>
<line x1="27.9" y1="167.3" x2="38.8" y2="159.0" class="ld"/>
<path d="M44.00,155.00L39.94,160.55Q38.30,162.04 37.00,160.34Q35.70,158.63 37.57,157.45Z" class="ah"/>
<rect x="11.00" y="164.90" width="19.60" height="15.60" rx="6.66" ry="7.80" class="lb"/>
<text x="20.8" y="175.8" textLength="14.0" lengthAdjust="spacingAndGlyphs" class="lt">161.2</text>
<line x1="44.1" y1="190.0" x2="54.6" y2="181.6" class="ld"/>
<path d="M59.70,177.40L55.79,183.07Q54.21,184.60 52.86,182.93Q51.51,181.27 53.34,180.03Z" class="ah"/>
<rect x="27.40" y="187.80" width="19.60" height="15.60" rx="6.66" ry="7.80" class="lb"/>
<text x="37.2" y="198.7" textLength="14.0" lengthAdjust="spacingAndGlyphs" class="lt">161.4</text>
<line x1="110.1" y1="164.6" x2="102.2" y2="167.5" class="ld"/>
<path d="M96.00,169.80L101.51,165.68Q103.51,164.74 104.25,166.75Q105.00,168.76 102.87,169.34Z" class="ah"/>
<rect x="109.20" y="153.50" width="19.60" height="15.60" rx="6.66" ry="7.80" class="lb"/>
<text x="119" y="164.4" textLength="14.0" lengthAdjust="spacingAndGlyphs" class="lt">161.4</text>
<line x1="125.1" y1="201.7" x2="113.2" y2="197.1" class="ld"/>
<path d="M107.00,194.80L113.86,195.31Q115.99,195.91 115.23,197.91Q114.47,199.92 112.48,198.96Z" class="ah"/>
<rect x="124.15" y="197.20" width="19.60" height="15.60" rx="6.66" ry="7.80" class="lb"/>
<text x="133.95" y="208.1" textLength="14.0" lengthAdjust="spacingAndGlyphs" class="lt">161.3</text>
<line x1="89.7" y1="284.7" x2="74.1" y2="289.0" class="ld"/>
<path d="M67.70,290.80L73.55,287.17Q75.62,286.40 76.18,288.47Q76.75,290.53 74.58,290.93Z" class="ah"/>
<rect x="89.15" y="274.40" width="19.60" height="15.60" rx="6.66" ry="7.80" class="lb"/>
<text x="98.95" y="285.3" textLength="14.0" lengthAdjust="spacingAndGlyphs" class="lt">157.6</text>
<line x1="89.8" y1="308.1" x2="81.0" y2="310.7" class="ld"/>
<path d="M74.70,312.60L80.46,308.83Q82.51,308.01 83.13,310.06Q83.74,312.12 81.58,312.56Z" class="ah"/>
<rect x="89.15" y="297.50" width="19.60" height="15.60" rx="6.66" ry="7.80" class="lb"/>
<text x="98.95" y="308.4" textLength="14.0" lengthAdjust="spacingAndGlyphs" class="lt">157.3</text>
<line x1="89.2" y1="323.7" x2="81.1" y2="323.3" class="ld"/>
<path d="M74.50,323.00L81.18,321.35Q83.39,321.25 83.29,323.40Q83.19,325.54 81.01,325.24Z" class="ah"/>
<rect x="89.15" y="316.30" width="19.60" height="15.60" rx="6.66" ry="7.80" class="lb"/>
<text x="98.95" y="327.2" textLength="14.0" lengthAdjust="spacingAndGlyphs" class="lt">157.1</text>
<line x1="100.5" y1="339.8" x2="74.3" y2="338.4" class="ld"/>
<path d="M67.70,338.10L74.39,336.49Q76.60,336.41 76.49,338.55Q76.38,340.70 74.19,340.39Z" class="ah"/>
<rect x="100.50" y="332.50" width="19.60" height="15.60" rx="6.66" ry="7.80" class="lb"/>
<text x="110.3" y="343.4" textLength="14.0" lengthAdjust="spacingAndGlyphs" class="lt">157.5</text>
<line x1="29.4" y1="328.1" x2="34.8" y2="337.8" class="ld"/>
<path d="M38.00,343.60L33.10,338.77Q31.86,336.94 33.74,335.90Q35.61,334.86 36.51,336.88Z" class="ah"/>
<rect x="13.35" y="312.95" width="24.00" height="15.60" rx="8.16" ry="7.80" class="lb"/>
<text x="25.35" y="323.9" textLength="18.6" lengthAdjust="spacingAndGlyphs" class="lt">157.7.3</text>
<line x1="109.2" y1="357.5" x2="99.4" y2="354.5" class="ld"/>
<path d="M93.10,352.60L99.98,352.67Q102.14,353.13 101.51,355.18Q100.88,357.23 98.84,356.40Z" class="ah"/>
<rect x="108.55" y="352.55" width="19.60" height="15.60" rx="6.66" ry="7.80" class="lb"/>
<text x="118.35" y="363.5" textLength="14.0" lengthAdjust="spacingAndGlyphs" class="lt">157.2</text>
<line x1="125.1" y1="374.7" x2="104.6" y2="375.6" class="ld"/>
<path d="M98.00,375.90L104.50,373.65Q106.69,373.35 106.79,375.50Q106.89,377.64 104.68,377.54Z" class="ah"/>
<rect x="125.10" y="366.30" width="24.00" height="15.60" rx="8.16" ry="7.80" class="lb"/>
<text x="137.1" y="377.2" textLength="18.6" lengthAdjust="spacingAndGlyphs" class="lt">157.7.1</text>
<line x1="33.3" y1="401.1" x2="34.0" y2="390.9" class="ld"/>
<path d="M34.40,384.30L35.93,391.01Q35.99,393.22 33.85,393.08Q31.71,392.95 32.04,390.76Z" class="ah"/>
<rect x="23.05" y="401.10" width="19.60" height="15.60" rx="6.66" ry="7.80" class="lb"/>
<text x="32.85" y="412.0" textLength="14.0" lengthAdjust="spacingAndGlyphs" class="lt">157.4</text>
<line x1="155.7" y1="394.8" x2="138.9" y2="402.2" class="ld"/>
<path d="M132.90,404.90L138.14,400.44Q140.08,399.37 140.94,401.33Q141.81,403.29 139.72,404.01Z" class="ah"/>
<rect x="153.60" y="382.60" width="24.00" height="15.60" rx="8.16" ry="7.80" class="lb"/>
<text x="165.6" y="393.5" textLength="18.6" lengthAdjust="spacingAndGlyphs" class="lt">157.7.2</text>
<rect x="177.25" y="382.60" width="19.60" height="15.60" rx="6.66" ry="7.80" class="lb"/>
<text x="187.05" y="393.5" textLength="14.0" lengthAdjust="spacingAndGlyphs" class="lt">157.7</text>
<line x1="154.4" y1="418.9" x2="148.2" y2="417.8" class="ld"/>
<path d="M141.70,416.60L148.54,415.86Q150.74,416.06 150.36,418.17Q149.98,420.28 147.85,419.69Z" class="ah"/>
<rect x="154.00" y="413.20" width="24.00" height="15.60" rx="8.16" ry="7.80" class="lb"/>
<text x="166" y="424.1" textLength="18.6" lengthAdjust="spacingAndGlyphs" class="lt">157.7.3</text>
<line x1="147.4" y1="326.0" x2="155.4" y2="335.2" class="ld"/>
<path d="M159.80,340.20L153.98,336.53Q152.38,335.00 153.99,333.59Q155.60,332.17 156.91,333.95Z" class="ah"/>
<rect x="131.95" y="311.85" width="19.60" height="15.60" rx="6.66" ry="7.80" class="lb"/>
<text x="141.75" y="322.8" textLength="14.0" lengthAdjust="spacingAndGlyphs" class="lt">175.6</text>
<line x1="187.4" y1="302.0" x2="195.9" y2="307.6" class="ld"/>
<path d="M201.40,311.20L194.82,309.19Q192.87,308.14 194.06,306.35Q195.24,304.56 196.97,305.94Z" class="ah"/>
<rect x="170.10" y="289.20" width="19.60" height="15.60" rx="6.66" ry="7.80" class="lb"/>
<text x="179.9" y="300.1" textLength="14.0" lengthAdjust="spacingAndGlyphs" class="lt">175.3</text>
<line x1="181.0" y1="353.2" x2="174.0" y2="346.1" class="ld"/>
<path d="M169.40,341.40L175.41,344.76Q177.09,346.19 175.55,347.69Q174.02,349.19 172.62,347.48Z" class="ah"/>
<rect x="177.20" y="351.60" width="19.60" height="15.60" rx="6.66" ry="7.80" class="lb"/>
<text x="187" y="362.5" textLength="14.0" lengthAdjust="spacingAndGlyphs" class="lt">175.2</text>
<line x1="203.1" y1="338.0" x2="196.1" y2="330.9" class="ld"/>
<path d="M191.50,326.20L197.51,329.56Q199.19,330.99 197.65,332.49Q196.12,333.99 194.72,332.28Z" class="ah"/>
<rect x="199.30" y="336.40" width="19.60" height="15.60" rx="6.66" ry="7.80" class="lb"/>
<text x="209.1" y="347.3" textLength="14.0" lengthAdjust="spacingAndGlyphs" class="lt">175.5</text>
<line x1="331.2" y1="132.3" x2="349.7" y2="139.7" class="ld"/>
<path d="M355.80,142.20L348.95,141.54Q346.84,140.89 347.64,138.90Q348.44,136.92 350.41,137.92Z" class="ah"/>
<rect x="312.70" y="120.95" width="19.60" height="15.60" rx="6.66" ry="7.80" class="lb"/>
<text x="322.5" y="131.8" textLength="14.0" lengthAdjust="spacingAndGlyphs" class="lt">175.4</text>
<line x1="377.4" y1="99.9" x2="395.9" y2="107.7" class="ld"/>
<path d="M402.00,110.30L395.16,109.53Q393.06,108.85 393.89,106.87Q394.73,104.90 396.68,105.93Z" class="ah"/>
<rect x="358.95" y="88.45" width="19.60" height="15.60" rx="6.66" ry="7.80" class="lb"/>
<text x="368.75" y="99.3" textLength="14.0" lengthAdjust="spacingAndGlyphs" class="lt">175.1</text>
<line x1="399.0" y1="87.5" x2="408.1" y2="95.8" class="ld"/>
<path d="M413.00,100.20L406.79,97.23Q405.03,95.90 406.47,94.30Q407.90,92.71 409.41,94.33Z" class="ah"/>
<rect x="382.70" y="73.90" width="19.60" height="15.60" rx="6.66" ry="7.80" class="lb"/>
<text x="392.5" y="84.8" textLength="14.0" lengthAdjust="spacingAndGlyphs" class="lt">175.7</text>
<line x1="508.2" y1="37.6" x2="498.6" y2="43.2" class="ld"/>
<path d="M492.90,46.50L497.62,41.50Q499.43,40.22 500.51,42.07Q501.58,43.93 499.59,44.87Z" class="ah"/>
<rect x="506.30" y="25.20" width="19.60" height="15.60" rx="6.66" ry="7.80" class="lb"/>
<text x="516.1" y="36.1" textLength="14.0" lengthAdjust="spacingAndGlyphs" class="lt">160.7</text>
<line x1="535.6" y1="121.6" x2="524.2" y2="117.4" class="ld"/>
<path d="M518.00,115.10L524.87,115.55Q527.00,116.13 526.26,118.14Q525.52,120.15 523.52,119.21Z" class="ah"/>
<rect x="534.70" y="117.05" width="19.60" height="15.60" rx="6.66" ry="7.80" class="lb"/>
<text x="544.5" y="127.9" textLength="14.0" lengthAdjust="spacingAndGlyphs" class="lt">160.5</text>
<line x1="444.2" y1="142.4" x2="456.4" y2="157.7" class="ld"/>
<path d="M460.50,162.90L454.87,158.94Q453.35,157.34 455.03,156.01Q456.71,154.67 457.93,156.52Z" class="ah"/>
<rect x="429.20" y="128.00" width="19.60" height="15.60" rx="6.66" ry="7.80" class="lb"/>
<text x="439" y="138.9" textLength="14.0" lengthAdjust="spacingAndGlyphs" class="lt">160.3</text>
<line x1="544.5" y1="168.1" x2="533.2" y2="171.2" class="ld"/>
<path d="M526.80,172.90L532.67,169.31Q534.74,168.55 535.30,170.62Q535.86,172.69 533.68,173.07Z" class="ah"/>
<rect x="544.00" y="157.85" width="19.60" height="15.60" rx="6.66" ry="7.80" class="lb"/>
<text x="553.8" y="168.8" textLength="14.0" lengthAdjust="spacingAndGlyphs" class="lt">160.1</text>
<line x1="441.9" y1="186.8" x2="459.7" y2="185.3" class="ld"/>
<path d="M466.30,184.70L459.90,187.22Q457.72,187.61 457.53,185.47Q457.35,183.33 459.55,183.34Z" class="ah"/>
<rect x="422.40" y="179.90" width="19.60" height="15.60" rx="6.66" ry="7.80" class="lb"/>
<text x="432.2" y="190.8" textLength="14.0" lengthAdjust="spacingAndGlyphs" class="lt">160.4</text>
<line x1="547.3" y1="195.1" x2="532.0" y2="198.0" class="ld"/>
<path d="M525.50,199.30L531.61,196.13Q533.73,195.51 534.14,197.62Q534.55,199.72 532.35,199.95Z" class="ah"/>
<rect x="547.05" y="185.40" width="19.60" height="15.60" rx="6.66" ry="7.80" class="lb"/>
<text x="556.85" y="196.3" textLength="14.0" lengthAdjust="spacingAndGlyphs" class="lt">160.4</text>
<line x1="455.1" y1="208.1" x2="483.3" y2="195.7" class="ld"/>
<path d="M489.40,193.10L484.13,197.52Q482.19,198.58 481.33,196.62Q480.48,194.65 482.57,193.95Z" class="ah"/>
<rect x="436.70" y="204.00" width="19.60" height="15.60" rx="6.66" ry="7.80" class="lb"/>
<text x="446.5" y="214.9" textLength="14.0" lengthAdjust="spacingAndGlyphs" class="lt">160.2</text>
<line x1="554.2" y1="218.5" x2="546.7" y2="218.8" class="ld"/>
<path d="M540.10,219.10L546.60,216.85Q548.79,216.55 548.89,218.69Q548.99,220.84 546.78,220.74Z" class="ah"/>
<rect x="554.15" y="210.20" width="19.60" height="15.60" rx="6.66" ry="7.80" class="lb"/>
<text x="563.95" y="221.1" textLength="14.0" lengthAdjust="spacingAndGlyphs" class="lt">160.6</text>
<line x1="474.7" y1="296.9" x2="486.7" y2="304.3" class="ld"/>
<path d="M492.30,307.80L485.66,305.99Q483.69,304.99 484.82,303.17Q485.94,301.35 487.71,302.67Z" class="ah"/>
<rect x="457.20" y="284.35" width="19.60" height="15.60" rx="6.66" ry="7.80" class="lb"/>
<text x="467" y="295.2" textLength="14.0" lengthAdjust="spacingAndGlyphs" class="lt">158.3</text>
<line x1="476.7" y1="315.7" x2="485.3" y2="316.7" class="ld"/>
<path d="M491.90,317.40L485.13,318.61Q482.92,318.57 483.15,316.43Q483.39,314.30 485.55,314.74Z" class="ah"/>
<rect x="457.20" y="306.85" width="19.60" height="15.60" rx="6.66" ry="7.80" class="lb"/>
<text x="467" y="317.8" textLength="14.0" lengthAdjust="spacingAndGlyphs" class="lt">158.1</text>
<line x1="528.9" y1="298.0" x2="515.5" y2="302.4" class="ld"/>
<path d="M509.20,304.50L514.85,300.57Q516.88,299.70 517.55,301.73Q518.23,303.77 516.08,304.28Z" class="ah"/>
<rect x="528.10" y="287.20" width="19.60" height="15.60" rx="6.66" ry="7.80" class="lb"/>
<text x="537.9" y="298.1" textLength="14.0" lengthAdjust="spacingAndGlyphs" class="lt">158.6</text>
<line x1="408.0" y1="313.7" x2="416.3" y2="318.4" class="ld"/>
<path d="M422.00,321.60L415.29,320.05Q413.28,319.14 414.34,317.27Q415.39,315.40 417.21,316.66Z" class="ah"/>
<rect x="386.90" y="300.75" width="24.00" height="15.60" rx="8.16" ry="7.80" class="lb"/>
<text x="398.9" y="311.7" textLength="18.6" lengthAdjust="spacingAndGlyphs" class="lt">158.7.3</text>
<line x1="531.1" y1="357.3" x2="516.8" y2="352.6" class="ld"/>
<path d="M510.50,350.50L517.38,350.73Q519.53,351.24 518.85,353.28Q518.17,355.31 516.15,354.43Z" class="ah"/>
<rect x="530.30" y="352.55" width="19.60" height="15.60" rx="6.66" ry="7.80" class="lb"/>
<text x="540.1" y="363.5" textLength="14.0" lengthAdjust="spacingAndGlyphs" class="lt">158.5</text>
<line x1="547.3" y1="385.2" x2="534.9" y2="381.0" class="ld"/>
<path d="M528.70,378.90L535.58,379.18Q537.72,379.70 537.03,381.73Q536.34,383.76 534.32,382.87Z" class="ah"/>
<rect x="546.55" y="380.50" width="19.60" height="15.60" rx="6.66" ry="7.80" class="lb"/>
<text x="556.35" y="391.4" textLength="14.0" lengthAdjust="spacingAndGlyphs" class="lt">158.2</text>
<line x1="544.0" y1="406.7" x2="532.5" y2="399.9" class="ld"/>
<path d="M526.80,396.50L533.47,398.18Q535.47,399.13 534.38,400.98Q533.28,402.82 531.49,401.54Z" class="ah"/>
<rect x="540.85" y="404.10" width="24.00" height="15.60" rx="8.16" ry="7.80" class="lb"/>
<text x="552.85" y="415.0" textLength="18.6" lengthAdjust="spacingAndGlyphs" class="lt">158.7.3</text>
<rect x="386.60" y="370.10" width="19.60" height="15.60" rx="6.66" ry="7.80" class="lb"/>
<text x="396.4" y="381.0" textLength="14.0" lengthAdjust="spacingAndGlyphs" class="lt">158.7</text>
<line x1="427.9" y1="373.5" x2="452.5" y2="362.5" class="ld"/>
<path d="M458.50,359.80L453.27,364.27Q451.34,365.35 450.47,363.39Q449.59,361.43 451.68,360.71Z" class="ah"/>
<rect x="406.00" y="370.10" width="24.00" height="15.60" rx="8.16" ry="7.80" class="lb"/>
<text x="418" y="381.0" textLength="18.6" lengthAdjust="spacingAndGlyphs" class="lt">158.7.2</text>
<line x1="465.5" y1="378.9" x2="478.2" y2="361.0" class="ld"/>
<path d="M482.00,355.60L479.78,362.11Q478.67,364.02 476.92,362.78Q475.17,361.55 476.60,359.86Z" class="ah"/>
<rect x="448.50" y="378.20" width="24.00" height="15.60" rx="8.16" ry="7.80" class="lb"/>
<text x="460.5" y="389.1" textLength="18.6" lengthAdjust="spacingAndGlyphs" class="lt">158.7.1</text>
<line x1="446.2" y1="399.2" x2="461.0" y2="402.2" class="ld"/>
<path d="M467.50,403.50L460.64,404.10Q458.45,403.85 458.88,401.75Q459.30,399.65 461.42,400.27Z" class="ah"/>
<rect x="426.95" y="389.45" width="19.60" height="15.60" rx="6.66" ry="7.80" class="lb"/>
<text x="436.75" y="400.4" textLength="14.0" lengthAdjust="spacingAndGlyphs" class="lt">158.4</text>
<text x="51" y="240.5" textLength="65.0" lengthAdjust="spacingAndGlyphs" class="ct">031-9055-70</text>
<text x="32" y="256" textLength="104.5" lengthAdjust="spacingAndGlyphs" class="ct">RIGHT DRIVE ARM</text>
<text x="455" y="247.5" textLength="66.2" lengthAdjust="spacingAndGlyphs" class="ct">031-9005-70</text>
<text x="440" y="263" textLength="96.5" lengthAdjust="spacingAndGlyphs" class="ct">LEFT DRIVE ARM</text>
<text x="279.3" y="340" textLength="66.7" lengthAdjust="spacingAndGlyphs" class="ct">035-0005-00</text>
<text x="248.7" y="356" textLength="128.0" lengthAdjust="spacingAndGlyphs" class="ct">PUSH ROD ASSEMBLY</text>
<text x="50.6" y="437" textLength="66.4" lengthAdjust="spacingAndGlyphs" class="ct">031-0030-19</text>
<text x="12.8" y="453.2" textLength="141.7" lengthAdjust="spacingAndGlyphs" class="ct">RIGHT DRIVE ACTUATOR</text>
<text x="450" y="434.6" textLength="66.0" lengthAdjust="spacingAndGlyphs" class="ct">031-0031-19</text>
<text x="415.8" y="450.9" textLength="133.6" lengthAdjust="spacingAndGlyphs" class="ct">LEFT DRIVE ACTUATOR</text>
</svg>
</body></html>
